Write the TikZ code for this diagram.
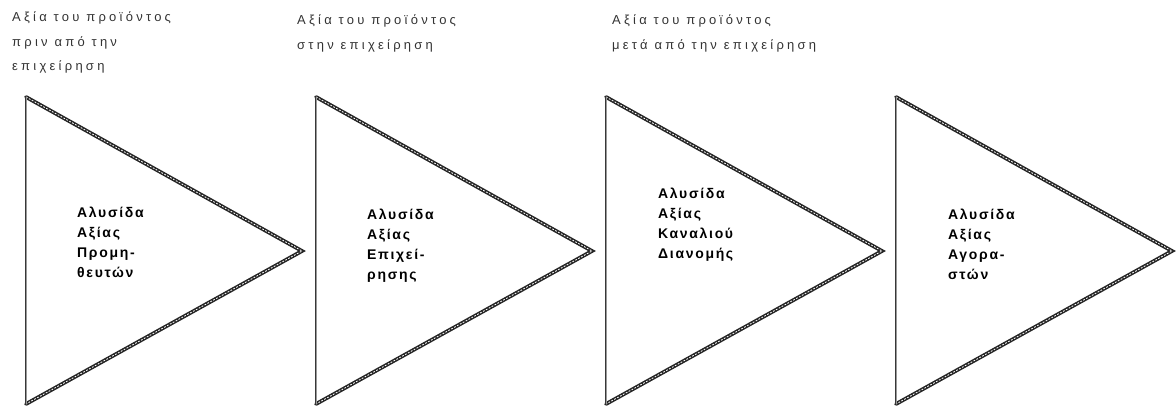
\documentclass[tikz,border=0pt]{standalone}
\usepackage{fontspec}
\setmainfont{Liberation Sans}
\newfontfamily\labelfont[LetterSpace=25]{Liberation Sans}
\newfontfamily\innerfont[LetterSpace=12]{Liberation Sans}
\tikzset{
  slant/.style={draw=black!85, line width=3.8pt, line cap=round, line join=miter},
  slantinner/.style={draw=white, line width=0.8pt, dash pattern=on 1.8pt off 1.5pt},
  leftedge/.style={draw=black!78, line width=0.8pt, double=black!40, double distance=0.9pt},
  toplabel/.style={anchor=north west, align=left, inner sep=0pt, text=black!80,
     font=\labelfont\fontsize{13}{24.5}\selectfont},
  chainlabel/.style={anchor=north west, align=left, inner sep=0pt,
     font=\innerfont\bfseries\fontsize{14}{20}\selectfont},
}
\begin{document}
\begin{tikzpicture}[x=1pt,y=-1pt]
\useasboundingbox (0,0) rectangle (1176,410);
\foreach \i/\l in {0/26,1/316,2/606,3/896}{
  \pgfmathsetmacro{\ax}{\l+276}
  \coordinate (t\i) at (\l,97);
  \coordinate (b\i) at (\l,404);
  \coordinate (a\i) at (\ax,251);
  \draw[slant] (t\i) -- (a\i) -- (b\i);
  \draw[slantinner] (t\i) -- (a\i) -- (b\i);
  \draw[leftedge] (t\i) -- (b\i);
}
\node[toplabel] (l1) at (12,12) {Αξία του προϊόντος\\πριν από την\\επιχείρηση};
\node[toplabel] (l2) at (297,15) {Αξία του προϊόντος\\στην επιχείρηση};
\node[toplabel] (l3) at (612,15) {Αξία του προϊόντος\\μετά από την επιχείρηση};
\node[chainlabel] (c1) at (77,207) {Αλυσίδα\\Αξίας\\Προμη-\\θευτών};
\node[chainlabel] (c2) at (367,209) {Αλυσίδα\\Αξίας\\Επιχεί-\\ρησης};
\node[chainlabel] (c3) at (658,188) {Αλυσίδα\\Αξίας\\Καναλιού\\Διανομής};
\node[chainlabel] (c4) at (948,209) {Αλυσίδα\\Αξίας\\Αγορα-\\στών};
\end{tikzpicture}
\end{document}
